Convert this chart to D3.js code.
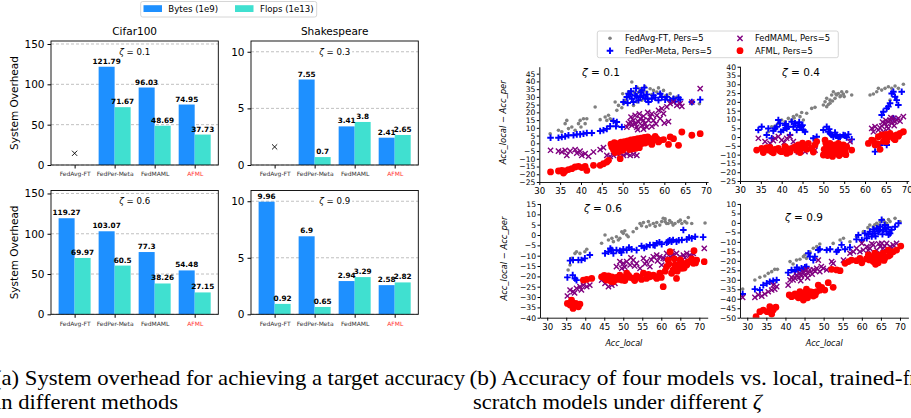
<!DOCTYPE html>
<html>
<head>
<meta charset="utf-8">
<script src="https://cdn.jsdelivr.net/npm/d3@7"></script>
<style>
  body { margin: 0; background: #fff; }
  svg { display: block; }
</style>
</head>
<body>
<script>
// ---- data: (a) system overhead bars ----
var methods = ["FedAvg-FT", "FedPer-Meta", "FedMAML", "AFML"];
var barSeries = ["Bytes (1e9)", "Flops (1e13)"];
var cifar01Bytes = [null, 121.79, 96.03, 74.95];
var cifar01Flops = [null, 71.67, 48.69, 37.73];
var shakes03Bytes = [null, 7.55, 3.41, 2.41];
var shakes03Flops = [null, 0.7, 3.8, 2.65];
var cifar06Bytes = [119.27, 103.07, 77.3, 54.48];
var cifar06Flops = [69.97, 60.5, 38.26, 27.15];
var shakes09Bytes = [9.96, 6.9, 2.94, 2.58];
var shakes09Flops = [0.92, 0.65, 3.29, 2.82];
var cifarMissMark = 14.5;   // "x" where FedAvg-FT never reached target
var shakesMissMark = 1.6;
var cifarTicks = [0, 50, 100, 150];
var shakesTicks = [0, 5, 10];

// ---- data: (b) Acc_local vs Acc_local - Acc_per ----
var scatterSeries = ["FedAvg-FT, Pers=5", "FedPer-Meta, Pers=5", "FedMAML, Pers=5", "AFML, Pers=5"];

var z01Avg = [[32.6,6.2],[34.6,8.4],[35.4,7.5],[36.2,12.7],[36.6,14.8],[37,9.5],[37.8,10.5],[38.6,8.4],[39.4,12.7],[39.8,14.8],[40,10.5],[40.6,15.9],[41,12.7],[41.4,15.9],[43.4,23.5],[44.6,15.3],[45.8,17],[46.2,14.8],[46.6,18.1],[47,15.9],[47.4,14.8],[48.2,26.7],[48.6,21.3],[49,24.5],[49.8,23],[50.2,25.6],[50.6,27.8],[51,29.9],[51.4,33.2],[52.2,39.6],[52.6,24.5],[53.4,36.4],[53.4,26.7],[54.2,35.3],[54.6,27.8],[55,34.2],[55.8,33.2],[56.6,35.3],[57.4,34.2],[58.2,33.2],[59,32.1],[59.8,34.2],[60.6,31],[61.4,32.1],[62.2,29.5],[63,29.9],[66.6,25.6],[68.4,25.6],
  [50,32],[51.8,31],[52.8,33],[53.8,33],[55.4,36.5],[57,31.5],[58.6,35.8],[60.2,30.5]];
var z01PerMeta = [[32.7,3.6],[34.6,3.6],[35.4,4.1],[36.2,4.5],[37,5.2],[38.2,5.2],[39,5.8],[39.8,5.8],[40.6,6.2],[41.4,6.7],[42.6,6.7],[44.6,8],[45.4,8.4],[46.2,9.3],[47,11],[47.8,14.4],[48.4,11],[48.6,13.8],[49.8,10.5],[50.2,26.7],[51,29.9],[51.4,32.1],[51.8,31.6],[52.2,28.8],[52.6,26.7],[53,31],[53.4,30.4],[53.8,27.8],[54.2,29.9],[54.6,34.2],[55,31],[55.4,28.8],[55.8,31.6],[56.2,26.7],[57,28.8],[57.8,29.5],[58.6,27.8],[59.4,29.9],[60.2,28.2],[61.4,27.8],[62.2,28.8],[63.4,29.5],[63.8,28.2],[66.6,26.7],[68.6,28.2],
  [51.2,26],[52,33.6],[53.2,35.5],[54.4,33],[55.2,36],[56,29],[57.4,31],[59,32],[60.6,30],[62.6,27]];
var z01Maml = [[32.7,-4.5],[34.6,-5],[35.4,-5.6],[36.2,-4.5],[36.6,-7.8],[37.4,-5],[38.6,-4.1],[39,-6.3],[39.8,-5],[40.2,-7.8],[41,-6.7],[41.8,-8.4],[43,-5.6],[44.6,-4.1],[45.4,-2.8],[46.2,-7.8],[47,-8.4],[47.8,-7.8],[48.6,-6.7],[49.4,-6.7],[50.2,-7.8],[51,-6.7],[51.8,-7.8],[52.6,-7.1],[53.4,-7.8],[51,10.5],[51.4,12.7],[51.8,13.8],[52.2,11.6],[52.6,14.8],[53,12.7],[53.4,10.5],[53.8,13.8],[54.2,15.9],[54.6,11.6],[55,14.8],[55.4,12.7],[55.8,10.5],[56.2,14.8],[56.6,17],[57.4,14.8],[58.2,18.1],[58.6,21.3],[59,15.9],[59.4,22.4],[59.8,19.2],[60.6,23.5],[61.4,25.6],[62.2,26.7],[63,24.5],[63.8,25.6],[64.2,23.9],[66.6,26.7],[68.6,35.3],
  [52,17],[53,18],[54,19],[55,17.5],[56,20],[57,19],[53.6,8.8],[55,9.2],[57,11],[58,12.5],[60,13],[61,14]];
var z01Afml = [[32.7,-18.5],[34.6,-17.9],[35.4,-17.5],[35.8,-19.2],[36.2,-17.9],[37,-17],[37.8,-16.4],[38.6,-15.3],[39.4,-14.9],[40.2,-15.7],[41,-14.9],[41.4,-17.5],[43,-14.2],[44.6,-14.2],[45.4,-13.2],[46.2,-12.1],[46.6,-11],[47.4,-2.4],[47.8,-4.1],[48.4,-1.3],[49,-2.4],[49.4,-9.9],[49.8,-3.5],[50.2,-1.3],[50.6,-2.4],[51,-0.7],[51.4,-2],[51.8,-0.2],[52.2,-2.4],[52.6,0.2],[53,-1.3],[53.4,0.9],[53.8,-0.7],[54.2,1.5],[54.6,-0.2],[55,1.9],[55.4,0.2],[55.8,2.4],[56.2,0.9],[56.6,3],[57,-0.7],[57.4,1.9],[58.2,3],[58.6,0.9],[59,1.9],[59.8,2.4],[61,-0.7],[61.4,4.1],[62.2,3],[63.4,-1.3],[64.2,7.3],[66.6,5.2],[68.6,6.2],
  [47.2,-0.5],[48,0.5],[48.8,-0.3],[49.6,0.8],[50.4,1],[51.2,1.6],[52,2.2],[52.8,2.6],[53.6,3],[54.4,3.4],[55.2,3.8],[56,4.2],[57.8,4.4],[50,-4.5],[51.6,-4],[52.4,-3.6],[53.2,-3.2],[54,-2.8],[48.2,-6],[49,-5.4]];

var z04Avg = [[36.8,3],[37.6,5.9],[38.4,6.3],[39.2,7.8],[40,9.7],[40.8,8.7],[41.6,10.6],[42.4,9.7],[42.8,11.6],[43.6,12.5],[44.4,11.6],[45.2,9.7],[46,13.5],[47.2,16.3],[48,16.9],[50,18.2],[50.4,20.1],[50.8,22],[50.8,17.3],[51.6,21],[51.6,19.2],[52,23.9],[52.4,25.8],[52.8,22],[53.2,23.9],[53.6,24.8],[54,22.9],[54.4,25.8],[54.8,24.5],[55.6,25.8],[56.8,23.9],[61.2,23.9],[62,24.5],[62.8,25.8],[63.2,27.7],[64,26.7],[64.8,27.7],[65.6,28.6],[66,21],[66.4,27.7],[67.2,29],[68,27.7],[69.2,30],
  [51.2,18.5],[52.2,20.5],[53,24.5],[54.2,23.5],[55,23],[44.8,14],[43,10.8]];
var z04PerMeta = [[34.4,4],[35.2,5.9],[36.4,1.2],[36.8,4.9],[37.6,-0.7],[38.4,4.9],[38.8,5.9],[39.2,9.7],[39.6,7.8],[40.4,4],[40.8,6.8],[41.2,4.9],[41.6,5.9],[42,1.2],[42.4,8.7],[42.8,5.9],[43.6,4],[44,6.8],[44.4,5.9],[44.8,6.3],[45.2,4],[45.6,3],[47.6,-0.7],[48.4,0.2],[50,4],[50.8,5.9],[51.2,3],[51.6,2.1],[52,1.2],[52.4,0.2],[53.2,1.2],[54,0.2],[54.8,1.2],[55.6,-0.2],[56.8,-1.3],[62.4,-8.3],[63.6,-4.5],[64,12.5],[64.4,14.4],[65.2,16.3],[65.2,-4.5],[65.6,17.3],[66,19.2],[66.4,24.8],[66.8,25.8],[66.8,10.6],[67.2,22.9],[67.6,21],[68,18.2],[68.8,25.8],
  [38,3.5],[39.8,3],[41,7.5],[43.2,7.8],[44.2,8.5],[45,6.8],[51.4,4.5],[52.8,2.5],[53.6,-0.5],[55.2,0.8],[56,1.5]];
var z04Maml = [[34.4,-0.7],[36,-2.6],[37.2,-3.6],[38.4,-0.7],[39.2,0.2],[40,-1.7],[41.2,-0.7],[42,0.2],[42.8,-2.6],[43.6,-7.4],[44.4,-6.4],[45.6,-8.3],[47.2,-6.4],[48,-7.4],[56.4,-2.6],[61.6,4.9],[62.4,5.9],[63.2,4],[64,6.3],[64.4,3],[64.8,7.8],[65.2,5.9],[65.6,8.7],[65.6,4.9],[66,9.7],[66.4,7.8],[66.8,10.6],[67.2,8.7],[67.6,9.7],[68,10.6],[69.2,11.6],
  [62,3],[63.6,5.2],[64.2,8.5],[65,9.5],[66.2,11],[67,6.5],[68.4,9],[38,-2],[40.6,-3],[44,-8.5]];
var z04Afml = [[34,-7.4],[35.2,-6.4],[36.8,-7.4],[37.2,-5.9],[37.6,-8.3],[38.4,-7],[39.2,-6.4],[40,-8.3],[40.8,-5.5],[41.2,-9.3],[41.6,-7.4],[42.4,-6.4],[43.2,-5.5],[44,-4.5],[44.8,-6.4],[45.6,-5.1],[46.4,-3.6],[47.2,-6.4],[48,-4.5],[48.4,-2.6],[50,-10.2],[50.4,-1.7],[50.8,-5.5],[51.2,-8.3],[51.6,-3.6],[52,-6.4],[52.4,-9.3],[52.8,-4.5],[53.2,-7.4],[53.6,-3.6],[54,-6.4],[54.4,-9.3],[54.8,-4.5],[55.2,-8.3],[55.6,-5.5],[56.8,-7.4],[60.8,-3.6],[61.6,-1.7],[62.4,-4.5],[63.2,0.2],[63.6,-7],[64,1.2],[64.8,-0.7],[65.2,-2.6],[65.6,0.2],[66,2.1],[66.8,-0.7],[67.6,1.2],[68.4,2.1],[69.2,3],
  [35.6,-8.8],[36.4,-6],[38,-9],[39.6,-8],[41,-6],[42,-8.5],[43.6,-7.5],[44.4,-8.8],[45,-3.5],[46,-7],[47.6,-8.5],[50.2,-7],[51,-10.5],[51.6,-6.5],[52.2,-11],[53,-8.5],[53.8,-10.5],[54.6,-7],[55.4,-10],[50.6,-3.5],[62,-2],[63,-3.8],[64.4,-2.5],[65,1.5],[66.4,0.8],[67.2,-1.5],[68,0.5]];

var z06Avg = [[35.5,-16.9],[36,-14.5],[36.4,-11.3],[37.3,-8.9],[37.7,-8.1],[38.6,-8.9],[39.9,-8.1],[40.4,-6.9],[44.3,-4],[45.2,0],[46.1,-2.4],[47,-1.6],[47.4,-3.2],[48.2,-0.8],[48.7,-2.4],[49.1,-1.6],[49.6,1.6],[50,0.8],[50.4,2.1],[50.9,0],[51.3,-0.8],[52.6,1.6],[53.5,3.2],[54.4,5.6],[55.3,6],[56.1,4],[57,4.8],[57.9,5.6],[58.8,6],[59.6,4.8],[60.1,6.5],[60.5,8.1],[61,6.5],[61.4,5.6],[61.8,5.6],[62.7,6],[63.6,5.6],[64.5,6.5],[65.4,5.6],[66.2,6.5],[67.1,8.5],[68,5.6],[71.5,5.8],
  [54.8,4.5],[56.6,6.5],[58.4,4.2],[61,7.8],[62.2,7],[63.1,4.8],[65,7.2],[66.7,5.8]];
var z06PerMeta = [[35.3,-20.5],[36,-12.4],[36.7,-19.4],[36.8,-12.1],[37.3,-21],[37.7,-21.8],[38.2,-12.1],[39,-12.1],[39.9,-11.3],[41.2,-9.7],[45.2,-8.9],[46.1,-8.1],[47,-7.3],[47.4,-8.9],[48.2,-7.3],[49.1,-7.6],[50,-6.9],[50.9,-7.3],[52.2,-6.9],[53.5,-7.3],[54.8,-5.3],[56.1,-5.6],[57,-4.8],[57.9,-4.8],[58.8,-4],[60.1,-4.4],[61.4,-3.7],[61.8,-3.2],[62.7,-3.2],[63.1,-2.4],[64,-3.2],[65.4,-2.4],[65.8,2.4],[66.7,-2.1],[68,-1.6],[68.9,-0.8],[71,-1],
  [46.6,-6.5],[49.5,-8.5],[51.5,-6],[55.5,-6.2],[58.3,-5],[59.5,-3.5],[62.2,-2.6],[64.6,-2.5],[67.3,-1.2]];
var z06Maml = [[35.3,-29.5],[36,-26.6],[36.8,-27.4],[37.7,-25.8],[38.6,-25],[39.5,-24.2],[40.4,-25],[41.2,-24.2],[44.3,-21.8],[45.2,-23.4],[46.1,-25],[47,-24.2],[47.8,-23.4],[48.2,-15.3],[49.1,-12.9],[49.6,-16.1],[50,-13.7],[50.9,-12.9],[51.8,-14.5],[52.6,-12.1],[53.5,-13.7],[54.4,-16.1],[55.3,-11.3],[56.1,-12.9],[57,-15.3],[57.9,-10.5],[58.8,-9.7],[59.6,-10.5],[60.1,-14.5],[60.5,-11.3],[61.4,-8.9],[62.3,-10.5],[63.1,-9.7],[64,-8.9],[64.9,-10.5],[65.8,-9.7],[66.7,-8.9],[67.5,-9.7],[68.4,-8.9],[71.3,-6.5],
  [50.4,-15.5],[52,-11],[53,-15],[55.7,-14],[57.4,-12],[59,-12.5],[61,-11.5],[62.8,-8],[64.4,-11.5],[66.2,-11],[67.9,-10.5],[37.2,-28],[39,-26.5]];
var z06Afml = [[35.3,-33.1],[36,-33.9],[36.4,-31.5],[36.8,-35.5],[37.5,-33.1],[38.2,-34.7],[38.6,-33.4],[39.5,-21.8],[40.4,-21.5],[41.7,-21],[44.3,-20.2],[45.2,-21],[45.6,-21.8],[46.1,-19.8],[46.5,-21.5],[47,-20.2],[47.4,-22.6],[48.2,-20.5],[49.1,-19.4],[49.6,-21.8],[50,-20.5],[50.9,-18.5],[51.8,-20.5],[52.6,-21],[53.5,-19.8],[54.4,-20.5],[55.3,-18.5],[56.1,-21],[57,-20.2],[57.9,-19.4],[58.8,-21],[59.6,-18.5],[60.5,-25],[61.4,-15.3],[61.8,-12.1],[62.3,-8.1],[62.7,-18.5],[63.1,-16.9],[63.6,-14.5],[64,-21],[64.5,-15.3],[64.9,-13.7],[65.4,-16.1],[65.8,-13.7],[66.7,-14.5],[67.5,-12.9],[68.4,-13.7],[68.6,-7.6],[69.3,-12.1],[71.3,-12.9],
  [45,-19.5],[46.8,-22.5],[48.6,-21.5],[50.4,-22],[51.4,-19.5],[53,-22],[54.8,-21.5],[56.6,-19],[58.2,-20],[60,-20.5],[61,-17.5],[62,-14],[63.4,-11.5],[64.2,-17.5],[65,-12],[66,-16],[67,-13],[68,-11.5],[69,-13.5]];

var z09Avg = [[28.8,-34.9],[32,-30.1],[33.3,-28.7],[34.6,-28],[35.5,-26.6],[36.4,-25.7],[37.2,-24.5],[37.9,-24.5],[41.2,-20.4],[42,-21.7],[42.9,-19.6],[43.8,-19.2],[44.7,-17.8],[45.1,-16.9],[45.5,-18.7],[46.4,-15.2],[47.3,-13.4],[48.2,-12.5],[49,-11.1],[52.5,-10.8],[54.3,-9],[55.2,-8.1],[56.9,-9.9],[58.6,-7.2],[60.4,-4.6],[62.1,-1.1],[63,-2],[63.9,-0.2],[64.8,0.7],[65.6,1.6],[66.5,-0.2],[67.4,0.7],[68.7,2.4],[70,0.7],
  [61.6,-2.5],[63.4,-1],[64.4,-1.2],[66,0.4],[67,1.8]];
var z09PerMeta = [[28.8,-37.5],[32,-34.9],[33.3,-35.4],[34.2,-32.8],[35.1,-31.9],[35.9,-31],[36.8,-30.5],[37.7,-30.1],[40.7,-26.2],[41.6,-24.8],[42.5,-25.7],[43.4,-24.8],[44.2,-24],[45.1,-23.4],[45.5,-23.1],[46,-16],[46.4,-17.8],[47.3,-19.6],[47.7,-17.8],[48.6,-14.3],[49,-13.9],[50.8,-14.3],[51.7,-13.9],[53.4,-15.2],[53.8,-14.3],[54.7,-11.6],[55.6,-13.9],[56.9,-12.9],[58.6,-8.7],[59.1,-6.4],[60,-9],[60.8,-5.5],[61.3,-8.1],[62.1,-4.6],[62.6,-7.2],[63,-3.4],[63.4,-5.5],[63.9,-2.8],[64.3,-4.6],[64.8,-2],[65.2,1.6],[65.6,-3.6],[66,-1.1],[66.5,-4.6],[66.9,-2.3],[67.4,-5.5],[67.8,-3.6],[68.7,-2],[69.6,-0.2],
  [61.7,-6],[62.8,-5.8],[63.6,-7],[64.6,-3.8],[65.4,-6],[66.2,-2.8],[67,-6.2],[44.6,-25.2],[43,-23.5]];
var z09Maml = [[28.8,-39.3],[32,-39.3],[32.9,-38],[33.8,-38.6],[34.6,-37.5],[35.5,-36.3],[36.4,-35.4],[36.8,-32.8],[37.2,-35],[37.7,-33.6],[40.7,-32.8],[41.2,-30.1],[41.6,-28.7],[42,-30.1],[42.5,-29.2],[42.9,-27.5],[43.4,-28.7],[43.8,-26.6],[44.2,-28],[44.7,-25.7],[45.1,-27.5],[45.5,-24.8],[46,-26.6],[46.4,-24.8],[47.3,-24.8],[48.2,-24],[48.6,-19.6],[49,-25.7],[49.9,-24],[50.8,-24.8],[52.1,-20.4],[52.5,-21.3],[55.2,-19.6],[56.9,-16],[57.8,-15.2],[58.6,-13.4],[59.5,-15.2],[60,-10.8],[60.4,-14.3],[61.3,-12.5],[62.1,-13.4],[63,-11.6],[63.9,-14.3],[64.8,-12.5],[65.2,-10.8],[65.6,-13.4],[66.5,-10.8],[67.4,-12.5],[68.2,-11.6],[69.1,-10.8],
  [44,-30.5],[45.8,-29],[47,-27],[47.8,-25.5],[49.4,-23],[61.7,-14.5],[62.6,-11],[64.4,-11],[66,-12.2],[67.8,-13.5]];
var z09Afml = [[32.3,-49.5],[33.3,-46.8],[34.2,-46],[35.2,-46.8],[35.9,-44.2],[36.4,-48.1],[36.8,-46],[37.5,-44.5],[41,-38],[41.6,-38.9],[42.5,-37.5],[42.9,-38.6],[43.8,-36.3],[44.2,-38.9],[44.7,-40.7],[45.1,-37.1],[45.5,-35],[46,-38],[46.4,-36.3],[47.3,-38.6],[48.2,-36.3],[48.6,-32.8],[49.5,-34],[50.3,-35.4],[51.2,-31.5],[52.5,-34],[52.1,-24.5],[53.4,-24.8],[54.3,-25.2],[55.6,-21.3],[56.5,-20.4],[57.3,-19.6],[58.6,-19.9],[59.5,-18.7],[60,-21],[61.7,-16.9],[62.6,-17.8],[63,-20.4],[63.4,-16],[63.9,-18.7],[64.3,-21],[64.8,-16.9],[65.2,-17.8],[65.6,-16],[66,-18.7],[66.9,-14.3],[67.4,-16.9],[68.2,-15.2],[69.1,-14.3],[70.2,-12.2],
  [43.4,-39.5],[44.6,-37.5],[45.8,-39.5],[47,-36.5],[47.8,-38],[49,-35.5],[62,-19.5],[63.6,-21.8],[64.6,-19],[65.8,-19.8],[67,-17.5],[61.2,-19]];

// ---- canvas ----
var w = 911, h = 418;
var svg = d3.select("body").append("svg")
  .attr("width", w).attr("height", h)
  .style("font-family", "'DejaVu Sans', sans-serif");

var barColors = ["#1e90ff", "#40e0d0"];

function zetaText(sel, val) {
  sel.append("tspan").attr("font-style", "italic").text("ζ");
  sel.append("tspan").text(" = " + val);
}

function barPanel(p) {
  var x = d3.scaleLinear().domain([-0.59, 3.59]).range([p.left, p.right]);
  var y = d3.scaleLinear().domain([0, p.yMax]).range([p.bottom, p.top]);
  var g = svg.append("g");
  var bw = 0.4;

  g.selectAll(".grid").data(p.ticks).enter().append("line")
    .attr("x1", p.left).attr("x2", p.right)
    .attr("y1", function(d) { return y(d); }).attr("y2", function(d) { return y(d); })
    .attr("stroke", "#b0b0b0").attr("stroke-width", 0.8).attr("stroke-dasharray", "3,2");

  var bars = [];
  methods.forEach(function(m, i) {
    if (p.bytes[i] != null) bars.push({i: i, s: 0, v: p.bytes[i]});
    if (p.flops[i] != null) bars.push({i: i, s: 1, v: p.flops[i]});
  });

  g.selectAll(".bar").data(bars).enter().append("rect")
    .attr("x", function(d) { return x(d.i - bw + d.s * bw); })
    .attr("width", function(d) { return x(bw) - x(0); })
    .attr("y", function(d) { return y(d.v); })
    .attr("height", function(d) { return y(0) - y(d.v); })
    .attr("fill", function(d) { return barColors[d.s]; });

  g.selectAll(".val").data(bars).enter().append("text")
    .attr("x", function(d) { return x(d.i - bw / 2 + d.s * bw); })
    .attr("y", function(d) { return y(d.v) - 3; })
    .attr("text-anchor", "middle")
    .style("font-size", "7.3px").style("font-weight", "bold")
    .text(function(d) { return d.v; });

  if (p.miss != null) {
    var mx = x(0), my = y(p.miss), r = 2.6;
    g.append("path")
      .attr("d", "M" + (mx - r) + "," + (my - r) + "L" + (mx + r) + "," + (my + r) +
                 "M" + (mx - r) + "," + (my + r) + "L" + (mx + r) + "," + (my - r))
      .attr("stroke", "#000").attr("stroke-width", 0.9);
  }

  // zeta label with white box
  var zt = g.append("text")
    .attr("x", (p.left + p.right) / 2).attr("y", p.top + 13.5)
    .attr("text-anchor", "middle").style("font-size", "8.6px");
  zetaText(zt, p.zeta);
  var bb = zt.node().getBBox();
  g.insert("rect", function() { return zt.node(); })
    .attr("x", bb.x - 2).attr("y", bb.y).attr("width", bb.width + 4).attr("height", bb.height)
    .attr("fill", "#fff");

  // frame
  g.append("rect").attr("x", p.left).attr("y", p.top)
    .attr("width", p.right - p.left).attr("height", p.bottom - p.top)
    .attr("fill", "none").attr("stroke", "#000").attr("stroke-width", 0.9);

  var ya = g.append("g").attr("transform", "translate(" + p.left + ",0)")
    .call(d3.axisLeft(y).tickValues(p.ticks).tickSize(3.5).tickPadding(3).tickSizeOuter(0));
  ya.select(".domain").remove();
  ya.selectAll("text").style("font-size", "10.5px").style("font-family", "'DejaVu Sans', sans-serif");

  var xa = g.append("g").attr("transform", "translate(0," + p.bottom + ")")
    .call(d3.axisBottom(x).tickValues([0, 1, 2, 3]).tickSize(3.5).tickPadding(3.5).tickSizeOuter(0)
      .tickFormat(function(d) { return methods[d]; }));
  xa.select(".domain").remove();
  xa.selectAll("text").style("font-size", "6px").style("font-family", "'DejaVu Sans', sans-serif")
    .attr("fill", function(d) { return d === 3 ? "#ff3030" : "#333"; });

  if (p.title) {
    g.append("text").attr("x", (p.left + p.right) / 2).attr("y", p.top - 6.5)
      .attr("text-anchor", "middle").style("font-size", "10.5px").text(p.title);
  }
  if (p.yLabel) {
    g.append("text")
      .attr("transform", "translate(" + (p.left - 33) + "," + ((p.top + p.bottom) / 2) + ") rotate(-90)")
      .attr("text-anchor", "middle").style("font-size", "10.5px").text(p.yLabel);
  }
}

barPanel({left: 51, right: 218.3, top: 41, bottom: 165, yMax: 153.7, ticks: cifarTicks,
  bytes: cifar01Bytes, flops: cifar01Flops, miss: cifarMissMark, zeta: "0.1", title: "Cifar100", yLabel: "System Overhead"});
barPanel({left: 251, right: 418.3, top: 41, bottom: 165, yMax: 10.95, ticks: shakesTicks,
  bytes: shakes03Bytes, flops: shakes03Flops, miss: shakesMissMark, zeta: "0.3", title: "Shakespeare"});
barPanel({left: 51, right: 218.3, top: 190.5, bottom: 314.3, yMax: 153.7, ticks: cifarTicks,
  bytes: cifar06Bytes, flops: cifar06Flops, zeta: "0.6", yLabel: "System Overhead"});
barPanel({left: 251, right: 418.3, top: 190.5, bottom: 314.3, yMax: 10.95, ticks: shakesTicks,
  bytes: shakes09Bytes, flops: shakes09Flops, zeta: "0.9"});

// bar legend
var bl = svg.append("g");
bl.append("rect").attr("x", 140.7).attr("y", 1.5).attr("width", 176).attr("height", 15.5)
  .attr("rx", 2).attr("fill", "#fff").attr("stroke", "#cccccc").attr("stroke-width", 0.8);
[[143.5, 168.3], [235, 260]].forEach(function(pos, i) {
  bl.append("rect").attr("x", pos[0]).attr("y", 5.2).attr("width", 18.5).attr("height", 6.8).attr("fill", barColors[i]);
  bl.append("text").attr("x", pos[1]).attr("y", 12).style("font-size", "8.6px").text(barSeries[i]);
});

// ---- scatter panels ----
var scatterColors = ["#808080", "#0000ff", "#800080", "#ff0000"];

function drawMarker(sel, k) {
  if (k === 0) {
    sel.append("circle").attr("r", 1.8).attr("fill", scatterColors[0]);
  } else if (k === 1) {
    sel.append("path").attr("d", "M-3.3,0H3.3M0,-3.3V3.3")
      .attr("stroke", scatterColors[1]).attr("stroke-width", 1.9);
  } else if (k === 2) {
    sel.append("path").attr("d", "M-2.6,-2.6L2.6,2.6M-2.6,2.6L2.6,-2.6")
      .attr("stroke", scatterColors[2]).attr("stroke-width", 1.4);
  } else {
    sel.append("circle").attr("r", 3.4).attr("fill", scatterColors[3]);
  }
}

function scatterPanel(p, idx) {
  var x = d3.scaleLinear().domain(p.xDom).range([p.left, p.right]);
  var y = d3.scaleLinear().domain(p.yDom).range([p.bottom, p.top]);
  var g = svg.append("g");

  var clipId = "clip" + idx;
  svg.append("clipPath").attr("id", clipId).append("rect")
    .attr("x", p.left).attr("y", p.top).attr("width", p.right - p.left).attr("height", p.bottom - p.top);
  var plot = g.append("g").attr("clip-path", "url(#" + clipId + ")");

  p.series.forEach(function(pts, k) {
    plot.append("g").selectAll("g").data(pts).enter().append("g")
      .attr("transform", function(d) { return "translate(" + x(d[0]) + "," + y(d[1]) + ")"; })
      .each(function() { drawMarker(d3.select(this), k); });
  });

  var yTicks = d3.range(p.yDom[0], p.yTop + 1, 5);
  var ya = g.append("g").attr("transform", "translate(" + p.left + ",0)")
    .call(d3.axisLeft(y).tickValues(yTicks).tickSize(2.5).tickPadding(1.5).tickSizeOuter(0));
  ya.select(".domain").attr("stroke-width", 0.9);
  ya.selectAll("text").style("font-size", "7.6px").style("font-family", "'DejaVu Sans', sans-serif");

  var xa = g.append("g").attr("transform", "translate(0," + p.bottom + ")")
    .call(d3.axisBottom(x).tickValues(d3.range(30, 71, 5)).tickSize(3).tickPadding(3).tickSizeOuter(0));
  xa.select(".domain").attr("stroke-width", 0.9);
  xa.selectAll("text").style("font-size", "8.6px").style("font-family", "'DejaVu Sans', sans-serif");

  var zt = g.append("text").attr("x", p.zx).attr("y", p.zy)
    .attr("text-anchor", "middle").style("font-size", "10.5px");
  zetaText(zt, p.zeta);

  if (p.yLabel) {
    g.append("text")
      .attr("transform", "translate(" + (p.left - 33) + "," + ((p.top + p.bottom) / 2 - 2) + ") rotate(-90)")
      .attr("text-anchor", "middle").style("font-size", "8.4px").style("font-style", "italic")
      .text("Acc_local − Acc_per");
  }
  if (p.xLabel) {
    g.append("text").attr("x", (p.left + p.right) / 2).attr("y", p.bottom + 28.5)
      .attr("text-anchor", "middle").style("font-size", "8px").style("font-style", "italic")
      .text("Acc_local");
  }
}

scatterPanel({left: 539.3, right: 708.1, top: 66.7, bottom: 182, xDom: [30, 70.5], yDom: [-25, 49.5], yTop: 45,
  series: [z01Avg, z01PerMeta, z01Maml, z01Afml], zeta: "0.1", zx: 601, zy: 76, yLabel: true}, 0);
scatterPanel({left: 740, right: 908.8, top: 66.2, bottom: 181, xDom: [30, 70.5], yDom: [-25, 40.3], yTop: 40,
  series: [z04Avg, z04PerMeta, z04Maml, z04Afml], zeta: "0.4", zx: 801, zy: 76}, 1);
scatterPanel({left: 540, right: 707.7, top: 203.4, bottom: 317.7, xDom: [28.1, 72.2], yDom: [-40, 15.3], yTop: 15,
  series: [z06Avg, z06PerMeta, z06Maml, z06Afml], zeta: "0.6", zx: 603, zy: 212, yLabel: true, xLabel: true}, 2);
scatterPanel({left: 740, right: 908.4, top: 203.4, bottom: 317.7, xDom: [28.1, 72.2], yDom: [-50, 10.3], yTop: 10,
  series: [z09Avg, z09PerMeta, z09Maml, z09Afml], zeta: "0.9", zx: 804, zy: 221, xLabel: true}, 3);

// scatter legend (2 columns)
var sl = svg.append("g");
sl.append("rect").attr("x", 597.3).attr("y", 31).attr("width", 241).attr("height", 26.7)
  .attr("rx", 2).attr("fill", "#fff").attr("stroke", "#cccccc").attr("stroke-width", 0.8);
scatterSeries.forEach(function(name, k) {
  var col = Math.floor(k / 2), row = k % 2;
  var mx = col === 0 ? 610 : 740, ty = row === 0 ? 38.3 : 50.7;
  drawMarker(sl.append("g").attr("transform", "translate(" + mx + "," + ty + ")"), k);
  sl.append("text").attr("x", mx + 15).attr("y", ty + 3).style("font-size", "8.4px").text(name);
});

// ---- captions ----
var cap = svg.append("g").style("font-family", "'Liberation Serif', 'Times New Roman', serif").style("font-size", "22px");
cap.append("text").attr("x", -6).attr("y", 385).attr("textLength", 471).attr("lengthAdjust", "spacingAndGlyphs")
  .text("(a) System overhead for achieving a target accuracy");
cap.append("text").attr("x", -5).attr("y", 409).attr("textLength", 183).attr("lengthAdjust", "spacingAndGlyphs")
  .text("in different methods");
cap.append("text").attr("x", 469.5).attr("y", 385).attr("textLength", 433).attr("lengthAdjust", "spacingAndGlyphs")
  .text("(b) Accuracy of four models vs.  local, trained-");
cap.append("text").attr("x", 903).attr("y", 385).attr("textLength", 44).attr("lengthAdjust", "spacingAndGlyphs").text("from-");
var c2 = cap.append("text").attr("x", 473).attr("y", 409).attr("textLength", 289).attr("lengthAdjust", "spacingAndGlyphs");
c2.append("tspan").text("scratch models under different ");
c2.append("tspan").attr("font-style", "italic").text("ζ");
</script>
</body>
</html>
